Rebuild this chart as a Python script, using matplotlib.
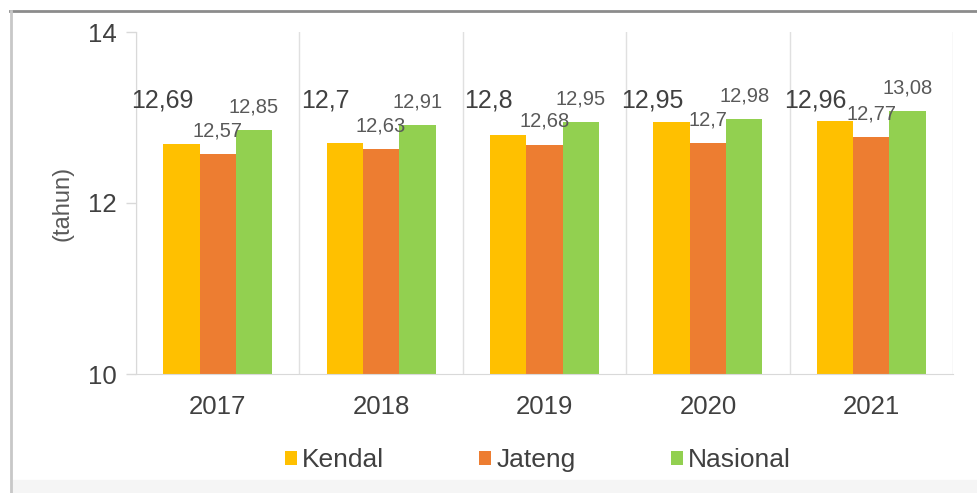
import numpy as np
import matplotlib
matplotlib.use("Agg")
import matplotlib.pyplot as plt
from matplotlib.patches import Patch, Rectangle
from matplotlib.lines import Line2D

plt.rcParams['font.family'] = ['Liberation Sans', 'DejaVu Sans']

years = ["2017", "2018", "2019", "2020", "2021"]
kendal = [12.69, 12.7, 12.8, 12.95, 12.96]
jateng = [12.57, 12.63, 12.68, 12.7, 12.77]
nasional = [12.85, 12.91, 12.95, 12.98, 13.08]
series_names = ["Kendal", "Jateng", "Nasional"]
colors = ["#FFC000", "#ED7D31", "#92D050"]


def fmt(v):
    return ("%g" % v).replace(".", ",")


fig = plt.figure(figsize=(9.77, 4.93), dpi=100)
ax = fig.add_axes([136 / 977, 1 - 374 / 493, 817 / 977, 342 / 493])

x = np.arange(len(years))
w = 0.222
for i, (vals, c) in enumerate(zip([kendal, jateng, nasional], colors)):
    ax.bar(x + (i - 1) * w, np.array(vals) - 10, width=w, bottom=10, color=c,
           zorder=2)

# value labels (Kendal labels sit higher and to the left, bigger font)
for xi, v in zip(x, kendal):
    ax.annotate(fmt(v), (xi - w, 13.2), xytext=(-14, 0), textcoords="offset points",
                ha="center", va="center", fontsize=18, color="#404040")
for xi, v in zip(x, jateng):
    ax.annotate(fmt(v), (xi, v), xytext=(0, 17), textcoords="offset points",
                ha="center", va="center", fontsize=14.5, color="#595959")
for xi, v in zip(x, nasional):
    ax.annotate(fmt(v), (xi + w, v), xytext=(0, 16.5), textcoords="offset points",
                ha="center", va="center", fontsize=14.5, color="#595959")

ax.set_xlim(-0.5, len(years) - 0.5)
ax.set_ylim(10, 14)
ax.set_yticks([10, 12, 14])
ax.set_xticks(x)
ax.set_xticklabels(years)
ax.tick_params(axis="x", length=0, pad=15, labelsize=18.5, labelcolor="#404040")
ax.tick_params(axis="y", length=7, width=1, color="#d9d9d9", pad=7,
               labelsize=18.5, labelcolor="#404040")

# vertical separators between categories
for b in np.arange(-0.5, len(years), 1.0):
    ax.axvline(b, color="#e0e0e0", lw=1, zorder=0)

for s in ["top", "right"]:
    ax.spines[s].set_visible(False)
ax.spines["left"].set_color("#d9d9d9")
ax.spines["bottom"].set_color("#d9d9d9")

ax.set_ylabel("(tahun)", fontsize=17, color="#595959")
ax.yaxis.set_label_coords(-0.077, 0.5)

handles = [Patch(facecolor=c, edgecolor="none") for c in colors]
fig.legend(handles, series_names, loc="center", bbox_to_anchor=(538 / 977, 1 - 460 / 493),
           ncol=3, frameon=False, fontsize=19, handlelength=0.45, handleheight=0.45,
           handletextpad=0.2, columnspacing=3.6, labelcolor="#404040")

# outer frame pieces from the original screenshot
fig.add_artist(Line2D([10 / 977, 1], [1 - 11 / 493] * 2, color="#8c8c8c", lw=2))
fig.add_artist(Line2D([11 / 977] * 2, [0, 1 - 11 / 493], color="#c8c8c8", lw=2))
fig.add_artist(Rectangle((12 / 977, 0), 1, 13 / 493, color="#f5f5f5", zorder=-1))

fig.savefig("out.png", dpi=100)
